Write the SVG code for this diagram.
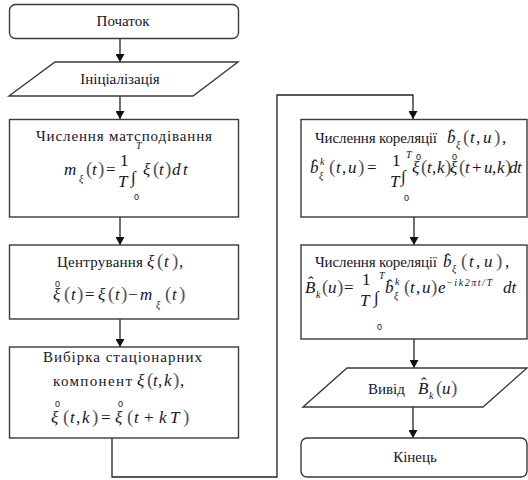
<svg xmlns="http://www.w3.org/2000/svg" width="528" height="480" viewBox="0 0 528 480" font-family="'Liberation Serif','Times New Roman',serif">
<defs>
<marker id="ah" markerWidth="8" markerHeight="9" refX="8" refY="4.5" orient="auto" markerUnits="userSpaceOnUse">
<path d="M0,0 L8,4.5 L0,9 z" fill="#111"/>
</marker>
<style>
.b{fill:#fff;stroke:#3a3a3a;stroke-width:1.4}
.t{font-size:15px;fill:#14142a}
.m{font-size:17px;fill:#14142a}
.i{font-style:italic}
.p{fill:#555;font-size:19px}
.s{font-size:10px}
.z{font-family:'Liberation Sans',Arial,sans-serif;font-size:9px;fill:#14142a}
.c{fill:none;stroke:#222;stroke-width:1.3}
</style>
</defs>
<rect width="528" height="480" fill="#fff"/>

<g id="connectors">
<path class="c" d="M120,39 V62" marker-end="url(#ah)"/>
<path class="c" d="M120,96 V119" marker-end="url(#ah)"/>
<path class="c" d="M120,217 V245" marker-end="url(#ah)"/>
<path class="c" d="M120,319 V347" marker-end="url(#ah)"/>
<path class="c" d="M112,438 V477 H277 V95 H413 V119" marker-end="url(#ah)"/>
<path class="c" d="M414,217 V245" marker-end="url(#ah)"/>
<path class="c" d="M414,339 V368" marker-end="url(#ah)"/>
<path class="c" d="M413,407 V438" marker-end="url(#ah)"/>
</g>

<g id="start">
<rect class="b" x="9.5" y="4.5" width="229" height="34" rx="6"/>
<text class="t" x="123" y="26" text-anchor="middle">Початок</text>
</g>

<g id="init">
<polygon class="b" points="55,62 238,62 193,96 9,96"/>
<text class="t" x="120" y="84" text-anchor="middle">Ініціалізація</text>
</g>

<g id="mean">
<rect class="b" x="9.5" y="119.5" width="229" height="97.5"/>
<text class="t" x="124" y="141" text-anchor="middle" textLength="176" lengthAdjust="spacing">Числення матсподівання</text>
<text class="m i" x="64" y="175">m</text>
<text class="m i s" x="79" y="182">ξ</text>
<text class="m"><tspan class="p" x="86" y="175">(</tspan><tspan class="i" x="92" y="175">t</tspan><tspan class="p" x="98" y="175">)</tspan><tspan x="106" y="175">=</tspan></text>
<text class="m" x="120" y="166">1</text>
<text class="m i" x="118" y="187">T</text>
<text class="m" x="131" y="183" font-size="24">∫</text>
<text class="m i s" x="136" y="149">T</text>
<text class="z" x="134" y="200">0</text>
<text class="m"><tspan class="i" x="143" y="175">ξ</tspan><tspan class="p" x="153" y="175">(</tspan><tspan class="i" x="159" y="175">t</tspan><tspan class="p" x="165" y="175">)</tspan><tspan class="i" x="172" y="175">d</tspan><tspan class="i" x="183" y="175">t</tspan></text>
</g>

<g id="center">
<rect class="b" x="9.5" y="245" width="229" height="74"/>
<text class="t" x="57" y="267" textLength="86" lengthAdjust="spacing">Центрування</text>
<text class="m"><tspan class="i" x="147" y="267">ξ</tspan><tspan class="p" x="157" y="267">(</tspan><tspan class="i" x="164" y="267">t</tspan><tspan class="p" x="172" y="267">)</tspan><tspan x="179" y="267">,</tspan></text>
<text class="z" x="55" y="287">0</text>
<text class="m"><tspan class="i" x="53" y="300">ξ</tspan><tspan class="p" x="64" y="300">(</tspan><tspan class="i" x="71" y="300">t</tspan><tspan class="p" x="77" y="300">)</tspan><tspan x="85" y="300">=</tspan><tspan class="i" x="98" y="300">ξ</tspan><tspan class="p" x="108" y="300">(</tspan><tspan class="i" x="115" y="300">t</tspan><tspan class="p" x="121" y="300">)</tspan><tspan x="128" y="300">−</tspan><tspan class="i" x="140" y="300">m</tspan></text>
<text class="m i s" x="156" y="308">ξ</text>
<text class="m"><tspan class="p" x="165" y="300">(</tspan><tspan class="i" x="172" y="300">t</tspan><tspan class="p" x="179" y="300">)</tspan></text>
</g>

<g id="sample">
<rect class="b" x="9.5" y="347" width="229" height="91"/>
<text class="t" x="122.5" y="362" text-anchor="middle" textLength="159" lengthAdjust="spacing">Вибірка стаціонарних</text>
<text class="t" x="53" y="386" textLength="79" lengthAdjust="spacing">компонент</text>
<text class="m"><tspan class="i" x="137" y="386">ξ</tspan><tspan class="p" x="147" y="386">(</tspan><tspan class="i" x="153" y="386">t</tspan><tspan x="158" y="386">,</tspan><tspan class="i" x="164" y="386">k</tspan><tspan class="p" x="173" y="386">)</tspan><tspan x="180" y="386">,</tspan></text>
<text class="z" x="55" y="407">0</text>
<text class="z" x="118" y="407">0</text>
<text class="m"><tspan class="i" x="51" y="423">ξ</tspan><tspan class="p" x="63" y="423">(</tspan><tspan class="i" x="70" y="423">t</tspan><tspan x="76" y="423">,</tspan><tspan class="i" x="82" y="423">k</tspan><tspan class="p" x="92" y="423">)</tspan><tspan x="101" y="423">=</tspan><tspan class="i" x="115" y="423">ξ</tspan><tspan class="p" x="127" y="423">(</tspan><tspan class="i" x="134" y="423">t</tspan><tspan x="144" y="423">+</tspan><tspan class="i" x="159" y="423">k</tspan><tspan class="i" x="170" y="423">T</tspan><tspan class="p" x="183" y="423">)</tspan></text>
</g>

<g id="corr1">
<rect class="b" x="301" y="119.5" width="226" height="97.5"/>
<text class="t" x="315" y="143" textLength="122" lengthAdjust="spacing">Числення кореляції</text>
<text class="m i" x="447" y="143">b</text>
<text class="m" x="449" y="141" font-size="13">ˆ</text>
<text class="m i s" x="456" y="148">ξ</text>
<text class="m"><tspan class="p" x="463" y="143">(</tspan><tspan class="i" x="470" y="143">t</tspan><tspan x="476" y="143">,</tspan><tspan class="i" x="483" y="143">u</tspan><tspan class="p" x="494" y="143">)</tspan><tspan x="502" y="143">,</tspan></text>
<text class="m i" x="310" y="173">b</text>
<text class="m" x="312" y="171" font-size="13">ˆ</text>
<text class="m i s" x="320" y="165">k</text>
<text class="m i s" x="319" y="179">ξ</text>
<text class="m"><tspan class="p" x="329" y="173">(</tspan><tspan class="i" x="336" y="173">t</tspan><tspan x="342" y="173">,</tspan><tspan class="i" x="348" y="173">u</tspan><tspan class="p" x="358" y="173">)</tspan><tspan x="367" y="173">=</tspan></text>
<text class="m" x="392" y="166">1</text>
<text class="m i" x="390" y="187">T</text>
<text class="m" x="401" y="182" font-size="24">∫</text>
<text class="m i s" x="406" y="158">T</text>
<text class="z" x="404" y="201">0</text>
<text class="z" x="416" y="160">0</text>
<text class="z" x="452" y="160">0</text>
<text class="m"><tspan class="i" x="412" y="173">ξ</tspan><tspan class="p" x="421" y="173">(</tspan><tspan class="i" x="427" y="173">t</tspan><tspan x="432" y="173">,</tspan><tspan class="i" x="437" y="173">k</tspan><tspan class="p" x="445" y="173">)</tspan><tspan class="i" x="450" y="173">ξ</tspan><tspan class="p" x="459" y="173">(</tspan><tspan class="i" x="465" y="173">t</tspan><tspan x="472" y="173">+</tspan><tspan class="i" x="484" y="173">u</tspan><tspan x="492" y="173">,</tspan><tspan class="i" x="497" y="173">k</tspan><tspan class="p" x="505" y="173">)</tspan><tspan class="i" x="509" y="173">d</tspan><tspan class="i" x="517" y="173">t</tspan></text>
</g>

<g id="corr2">
<rect class="b" x="301" y="245" width="226" height="94"/>
<text class="t" x="315" y="267" textLength="122" lengthAdjust="spacing">Числення кореляції</text>
<text class="m i" x="443" y="267">b</text>
<text class="m" x="445" y="265" font-size="13">ˆ</text>
<text class="m i s" x="452" y="272">ξ</text>
<text class="m"><tspan class="p" x="461" y="267">(</tspan><tspan class="i" x="469" y="267">t</tspan><tspan x="476" y="267">,</tspan><tspan class="i" x="484" y="267">u</tspan><tspan class="p" x="496" y="267">)</tspan><tspan x="505" y="267">,</tspan></text>
<text class="m i" x="305" y="293">B</text>
<text class="m" x="308" y="288" font-size="13">ˆ</text>
<text class="m i s" x="316" y="298">k</text>
<text class="m"><tspan class="p" x="322" y="293">(</tspan><tspan class="i" x="328" y="293">u</tspan><tspan class="p" x="337" y="293">)</tspan><tspan x="344" y="293">=</tspan></text>
<text class="m" x="362" y="285">1</text>
<text class="m i" x="360" y="306">T</text>
<text class="m" x="374" y="303" font-size="24">∫</text>
<text class="m i s" x="379" y="279">T</text>
<text class="z" x="377" y="330">0</text>
<text class="m i" x="385" y="293">b</text>
<text class="m" x="387" y="291" font-size="13">ˆ</text>
<text class="m i s" x="395" y="285">k</text>
<text class="m i s" x="394" y="299">ξ</text>
<text class="m"><tspan class="p" x="404" y="293">(</tspan><tspan class="i" x="410" y="293">t</tspan><tspan x="416" y="293">,</tspan><tspan class="i" x="422" y="293">u</tspan><tspan class="p" x="431" y="293">)</tspan><tspan class="i" x="438" y="293">e</tspan></text>
<text class="m i s" x="446" y="286" textLength="46" lengthAdjust="spacing">−ik2πt/T</text>
<text class="m i" x="503" y="293">dt</text>
</g>

<g id="output">
<polygon class="b" points="347,368 527,368 483,407 303,407"/>
<text class="t" x="368" y="394">Вивід</text>
<text class="m i" x="418" y="394">B</text>
<text class="m" x="421" y="389" font-size="13">ˆ</text>
<text class="m i s" x="429" y="399">k</text>
<text class="m"><tspan class="p" x="436" y="394">(</tspan><tspan class="i" x="442" y="394">u</tspan><tspan class="p" x="451" y="394">)</tspan></text>
</g>

<g id="end">
<rect class="b" x="301" y="438" width="226" height="39" rx="6"/>
<text class="t" x="415" y="462" text-anchor="middle">Кінець</text>
</g>
</svg>
